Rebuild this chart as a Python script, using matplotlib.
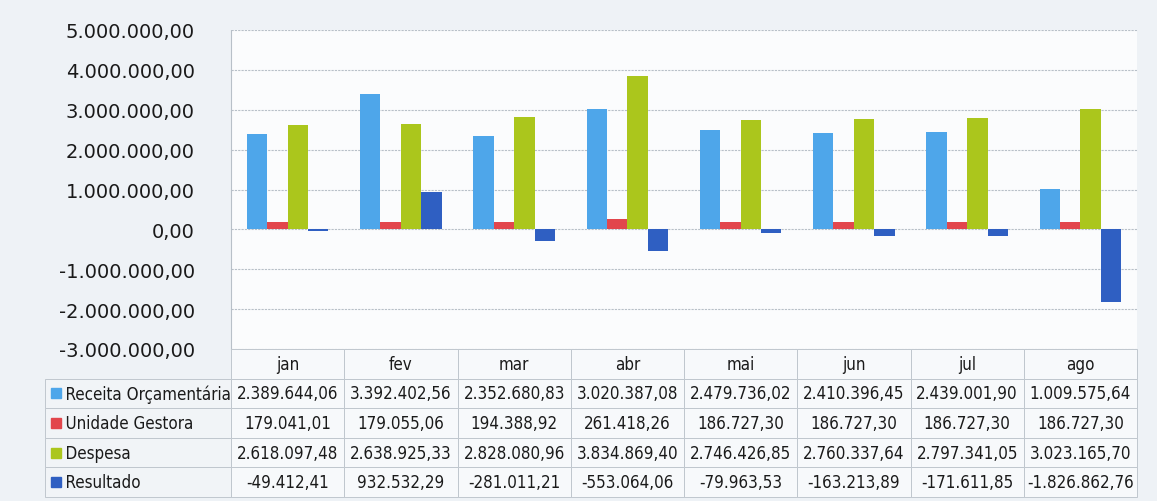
import numpy as np
import matplotlib.pyplot as plt
from matplotlib import font_manager

meses = ['jan', 'fev', 'mar', 'abr', 'mai', 'jun', 'jul', 'ago']
series = ['Receita Orçamentária', 'Unidade Gestora', 'Despesa', 'Resultado']
receita = [2389644.06, 3392402.56, 2352680.83, 3020387.08, 2479736.02, 2410396.45, 2439001.90, 1009575.64]
unidade = [179041.01, 179055.06, 194388.92, 261418.26, 186727.30, 186727.30, 186727.30, 186727.30]
despesa = [2618097.48, 2638925.33, 2828080.96, 3834869.40, 2746426.85, 2760337.64, 2797341.05, 3023165.70]
resultado = [-49412.41, 932532.29, -281011.21, -553064.06, -79963.53, -163213.89, -171611.85, -1826862.76]
cores = ['#4ea6ea', '#e2464c', '#abc61c', '#2f5fc2']

# fonte estreita, se existir
narrow_file = None
for f in font_manager.fontManager.ttflist:
    n = f.fname.lower()
    if ('narrow' in n or 'condensed' in n) and 'bold' not in n and 'oblique' not in n and 'italic' not in n:
        narrow_file = f.fname
        break
if narrow_file:
    fp_tab = font_manager.FontProperties(fname=narrow_file, size=12.2)
else:
    fp_tab = font_manager.FontProperties(family='DejaVu Sans', size=10.3)


def br(v):
    s = f'{abs(v):,.2f}'.replace(',', 'X').replace('.', ',').replace('X', '.')
    return ('-' if v < 0 else '') + s


fig = plt.figure(figsize=(11.57, 5.02), dpi=100)
fig.patch.set_facecolor('#eef2f6')

W, H = 1157, 502
ax = fig.add_axes([231 / W, 1 - 350 / H, (1137 - 231) / W, (350 - 31) / H])
ax.set_facecolor('#fbfcfd')

dados = [receita, unidade, despesa, resultado]
x = np.arange(len(meses))
bw = 0.18
for i, (vals, c) in enumerate(zip(dados, cores)):
    ax.bar(x + (i - 1.5) * bw, vals, bw, color=c, zorder=3)

ax.set_xlim(-0.5, len(meses) - 0.5)
ax.set_ylim(-3000000, 5000000)
yt = np.arange(-3000000, 5000001, 1000000)
ax.set_yticks(yt)
ax.set_yticklabels([br(v) for v in yt], fontsize=14, color='#1a1a1a')
ax.set_xticks([])
ax.tick_params(axis='y', length=0, pad=26)
ax.grid(axis='y', color='#b8c0c8', linestyle=(0, (2, 1)), linewidth=0.8, zorder=0)
for s in ['top', 'right', 'bottom']:
    ax.spines[s].set_visible(False)
ax.spines['left'].set_color('#b8c0c8')
ax.spines['left'].set_linestyle((0, (2, 1)))

# tabela de dados
tx0 = 45
tax = fig.add_axes([tx0 / W, 1 - 498 / H, (1137 - tx0) / W, (498 - 350) / H])
tax.axis('off')
texto = [['    ' + s] + [br(v) for v in row] for s, row in zip(series, dados)]
tab = tax.table(cellText=texto, colLabels=[''] + meses,
                cellLoc='center', bbox=[0, 0, 1, 1])
tab.auto_set_font_size(False)
lab_w = (231 - tx0) / (1137 - tx0)
col_w = (1 - lab_w) / len(meses)
for (r, c), cell in tab.get_celld().items():
    cell.set_edgecolor('#c0c7ce')
    cell.set_linewidth(0.7)
    cell.set_facecolor('#f7f9fb')
    cell.get_text().set_fontproperties(fp_tab)
    cell.get_text().set_color('#1a1a1a')
    cell.set_width(lab_w if c == 0 else col_w)
    if c == 0:
        cell.set_facecolor('#f1f4f7')
        cell.get_text().set_ha('left')
        cell._loc = 'left'
        cell.PAD = 0.004
    if r == 0 and c == 0:
        cell.set_linewidth(0)
        cell.set_facecolor('none')

nrows = len(series) + 1
for i, c in enumerate(cores):
    yc = 1 - (i + 1.5) / nrows
    tax.plot([0.01], [yc], marker='s', markersize=6.5, color=c,
             transform=tax.transAxes, clip_on=False)

fig.savefig('out.png', dpi=100, facecolor=fig.get_facecolor())
